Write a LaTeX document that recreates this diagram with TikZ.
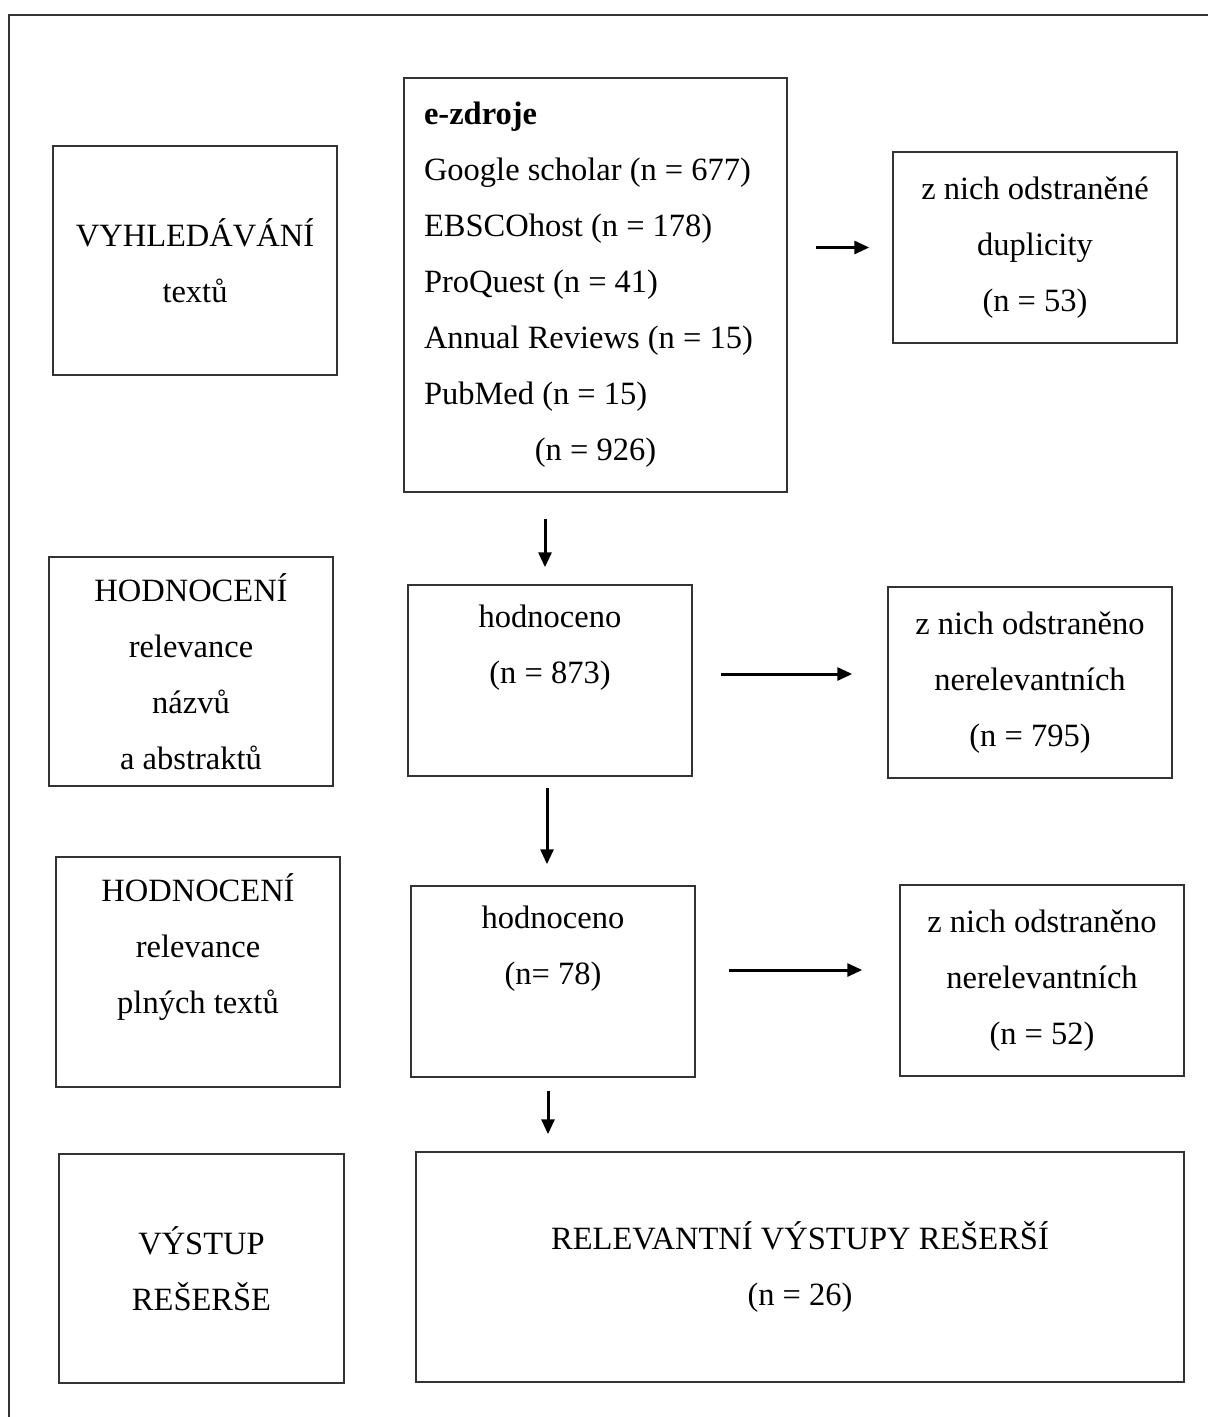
\documentclass[tikz,border=0pt]{standalone}
\usepackage{fontspec}
\setmainfont{Liberation Serif}
\usetikzlibrary{arrows.meta,calc}
\tikzset{
  box/.style={draw=black!80, line width=1.5pt, align=center, inner sep=0pt,
    minimum width=284pt, minimum height=191pt},
  arrow/.style={line width=3pt, -{Triangle[length=15pt,width=13pt]}},
}
\begin{document}
\begin{tikzpicture}[x=1pt,y=-1pt,font=\fontsize{32.5}{56}\selectfont]
  \useasboundingbox (0,0) rectangle (1208,1417);
  \draw[line width=2pt, black!80] (9,1417) |- (1208,15);
  \node[box, minimum height=229pt] (search) at (195,260.5) {VYHLEDÁVÁNÍ\\textů};
  \node[box, align=flush left, text width=343pt, inner xsep=20pt, minimum width=383pt,
    minimum height=414pt] (sources) at (595.5,285)
    {\textbf{e-zdroje}\\Google scholar (n = 677)\\EBSCOhost (n = 178)\\ProQuest (n = 41)\\
     Annual Reviews (n = 15)\\PubMed (n = 15)\\\makebox[343pt]{(n = 926)}};
  \node[box] (dup) at (1035,247.5) {z nich odstraněné\\duplicity\\(n = 53)};
  \node[box, minimum height=229pt] (screen1) at (191,671.5)
    {HODNOCENÍ\\relevance\\názvů\\a abstraktů};
  \node[box] (hod1) at (550,680.5) {hodnoceno\\(n = 873)\\[16pt]\mbox{}};
  \node[box] (rem1) at (1030,682.5) {z nich odstraněno\\nerelevantních\\(n = 795)};
  \node[box, minimum height=230pt] (screen2) at (198,972)
    {HODNOCENÍ\\relevance\\plných textů\\\mbox{}};
  \node[box] (hod2) at (553,981.5) {hodnoceno\\(n= 78)\\[16pt]\mbox{}};
  \node[box] (rem2) at (1042,980.5) {z nich odstraněno\\nerelevantních\\(n = 52)};
  \node[box, minimum width=285pt, minimum height=229pt] (output) at (201.5,1268.5)
    {VÝSTUP\\REŠERŠE};
  \node[box, minimum width=768pt, minimum height=230pt] (result) at (800,1267)
    {RELEVANTNÍ VÝSTUPY REŠERŠÍ\\(n = 26)};
  \begin{scope}[arrow]
    \draw[shorten <=28pt, shorten >=23pt] (dup.west -| sources.east) -- (dup.west);
    \draw[shorten <=26pt, shorten >=17pt] ($(hod1.north |- sources.south)+(-5,0)$) -- ($(hod1.north)+(-5,0)$);
    \draw[shorten <=28pt, shorten >=35pt] ($(hod1.east)+(0,-6.5)$) -- ($(rem1.west)+(0,-8.5)$);
    \draw[shorten <=11pt, shorten >=21pt] ($(hod1.south)+(-3,0)$) -- ($(hod1.south |- hod2.north)+(-3,0)$);
    \draw[shorten <=33pt, shorten >=37pt] ($(hod2.east)+(0,-11.5)$) -- ($(rem2.west)+(0,-10.5)$);
    \draw[shorten <=13pt, shorten >=17pt] ($(hod2.south)+(-5,0)$) -- ($(hod2.south |- result.north)+(-5,0)$);
  \end{scope}
\end{tikzpicture}
\end{document}
